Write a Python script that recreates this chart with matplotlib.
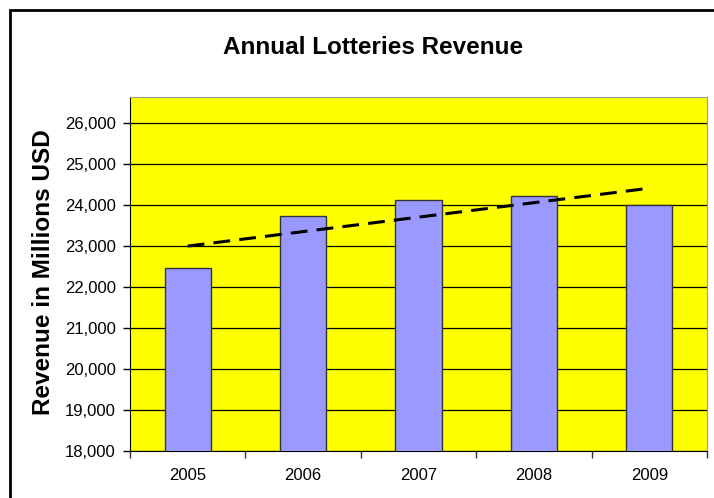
import numpy as np
import matplotlib
matplotlib.use('Agg')
import matplotlib.pyplot as plt
from matplotlib.patches import Rectangle
from matplotlib.ticker import FuncFormatter

plt.rcParams['font.family'] = ['Liberation Sans', 'DejaVu Sans']

years = ['2005', '2006', '2007', '2008', '2009']
revenue = [22480, 23732, 24122, 24220, 24000]
y_ticks = list(range(18000, 27000, 1000))

fig = plt.figure(figsize=(7.14, 4.98), dpi=100)
ax = fig.add_axes([130 / 714, (498 - 451.3) / 498, 577 / 714, 354 / 498])
ax.set_facecolor('#FFFF00')

x = np.arange(len(years))
ax.bar(x, revenue, width=0.4, color='#9999FF', edgecolor='#333333',
       linewidth=1, zorder=3)

# linear trendline, like Excel
k, b = np.polyfit(x, revenue, 1)
ax.plot([x[0], x[-1]], [k * x[0] + b, k * x[-1] + b], color='black',
        lw=2.2, dashes=(5.5, 3.0), zorder=4)

ax.set_xlim(-0.5, len(years) - 0.5)
ax.set_ylim(18000, 26634)
ax.set_yticks(y_ticks)
ax.yaxis.set_major_formatter(FuncFormatter(lambda v, p: f'{int(v):,}'))
ax.grid(axis='y', color='black', lw=0.9, zorder=1)
ax.set_axisbelow(True)

# category boundary ticks, labels in the middle
ax.set_xticks(np.arange(-0.5, len(years), 1.0))
ax.set_xticklabels([])
ax.set_xticks(x, minor=True)
ax.set_xticklabels(years, minor=True)
ax.tick_params(axis='x', which='major', length=5, width=1, color='#333333')
ax.tick_params(axis='x', which='minor', length=0, pad=12, labelsize=12)
ax.tick_params(axis='y', length=5, width=1, pad=5.2, labelsize=12)

for s in ['top', 'right']:
    ax.spines[s].set_color('#999999')
for s in ['left', 'bottom']:
    ax.spines[s].set_color('black')

fig.text(373 / 714, 1 - 48 / 498, 'Annual Lotteries Revenue', ha='center',
         va='center', fontsize=17.5, fontweight='bold')
fig.text(43.5 / 714, 1 - 272 / 498, 'Revenue in Millions USD', ha='center',
         va='center', rotation=90, fontsize=17.5, fontweight='bold')

# outer chart frame (cropped on right and bottom)
fig.patches.append(Rectangle((10 / 714, -0.1), 1.2, 1.1 - 10 / 498,
                             transform=fig.transFigure, fill=False,
                             edgecolor='black', lw=2))

fig.savefig('out.png', dpi=100)
